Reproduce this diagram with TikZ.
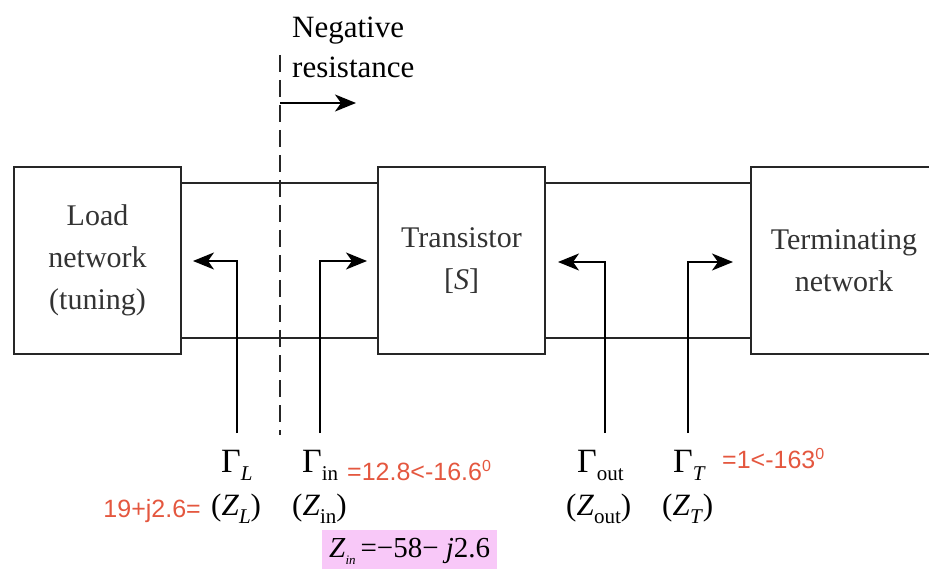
\documentclass[tikz,border=0pt]{standalone}
\usepackage{fontspec}
\setmainfont{Liberation Serif}
\newfontfamily\valfont{Liberation Sans}
\usetikzlibrary{arrows.meta,positioning,calc}
\definecolor{cVal}{HTML}{E4573F}
\definecolor{cMark}{HTML}{F8C8F8}
\newcommand\lowsub[1]{\raisebox{-8pt}{\fontsize{21}{21}\selectfont #1}}
\newcommand\degsup{\raisebox{9pt}{\fontsize{16}{16}\selectfont 0}}
\tikzset{
  blk/.style  ={rectangle, draw=black!85, line width=2.6pt, minimum width=167pt,
                minimum height=187pt, align=center, text=black!80,
                font=\fontsize{30}{42}\selectfont, inner sep=0pt},
  wire/.style ={draw=black!85, line width=1.8pt},
  cut/.style  ={draw=black!85, line width=1.8pt, dash pattern=on 17pt off 8pt},
  refl/.style ={draw=black, line width=1.8pt, -{Stealth[length=21pt,width=17pt,inset=6pt]}},
  gam/.style  ={font=\fontsize{34}{34}\selectfont, inner sep=0pt, anchor=base west},
  imp/.style  ={font=\fontsize{31}{31}\selectfont, inner sep=0pt, anchor=base west},
  val/.style  ={font=\valfont\fontsize{25}{25}\selectfont, text=cVal, inner sep=0pt},
}
\begin{document}
\begin{tikzpicture}[x=1pt,y=-1pt]
  \useasboundingbox (0,0) rectangle (929,569);
  % blocks
  \node[blk] (load) at (97.5,260.5) {Load\\network\\(tuning)};
  \node[blk] (trans) at (461.5,260.5) {Transistor\\{[}\textit{S}{]}};
  \node[blk,minimum width=186pt] (term) at (844,260.5) {Terminating\\network};
  % lines between blocks
  \draw[wire]([yshift=-17pt]load.north east)--([yshift=-17pt]trans.north west);
  \draw[wire]([yshift=17pt]load.south east)--([yshift=17pt]trans.south west);
  \draw[wire]([yshift=-17pt]trans.north east)--([yshift=-17pt]term.north west);
  \draw[wire]([yshift=17pt]trans.south east)--([yshift=17pt]term.south west);
  % reference plane
  \coordinate (dtop) at (280,55);
  \coordinate (dbot) at (280,435);
  \draw[cut](dtop)--(dbot);
  \node[font=\fontsize{31}{40}\selectfont,align=left,anchor=north west,inner sep=0pt]
    (neg) at (292,17) {Negative\\resistance};
  \coordinate (nr) at (280,103);
  \coordinate (nrtip) at (356,103);
  \draw[refl](nr)--(nrtip);
  % reflection arrows
  \coordinate (fL) at (237,433);   \coordinate (tL) at (193,261);
  \coordinate (fin) at (320,433);  \coordinate (tin) at (367,261);
  \coordinate (fout) at (605,433); \coordinate (tout) at (558,262);
  \coordinate (fT) at (688,433);   \coordinate (tT) at (733,262);
  \draw[refl](fL)|-(tL);
  \draw[refl](fin)|-(tin);
  \draw[refl](fout)|-(tout);
  \draw[refl](fT)|-(tT);
  % labels
  \node[gam] (gL) at (221,472) {Γ\lowsub{\textit{L}}};
  \node[gam] (gin) at (302,472) {Γ\lowsub{in}};
  \node[gam] (gout) at (577,472) {Γ\lowsub{out}};
  \node[gam] (gT) at (673,472) {Γ\lowsub{\textit{T}}};
  \node[imp] (zL) at (211,515) {(\textit{Z}\lowsub{\textit{L}})};
  \node[imp] (zin) at (292,515) {(\textit{Z}\lowsub{in})};
  \node[imp] (zout) at (566,515) {(\textit{Z}\lowsub{out})};
  \node[imp] (zT) at (662,515) {(\textit{Z}\lowsub{\textit{T}})};
  % values
  \node[val,anchor=base west] (vin) at (347,480) {=12.8<-16.6\degsup};
  \node[val,anchor=base east] (vL) at (201,517) {19+j2.6=};
  \node[val,anchor=base west] (vT) at (722,468) {=1<-163\degsup};
  \node[fill=cMark,anchor=north west,minimum width=175pt,minimum height=42pt,
    inner xsep=3pt,inner ysep=0pt,font=\fontsize{29}{29}\selectfont] (zmark) at (322,530)
    {\textit{Z}\raisebox{-7pt}{\fontsize{13}{13}\selectfont\textit{in}}\,=−58− \textit{j}2.6};
\end{tikzpicture}
\end{document}
